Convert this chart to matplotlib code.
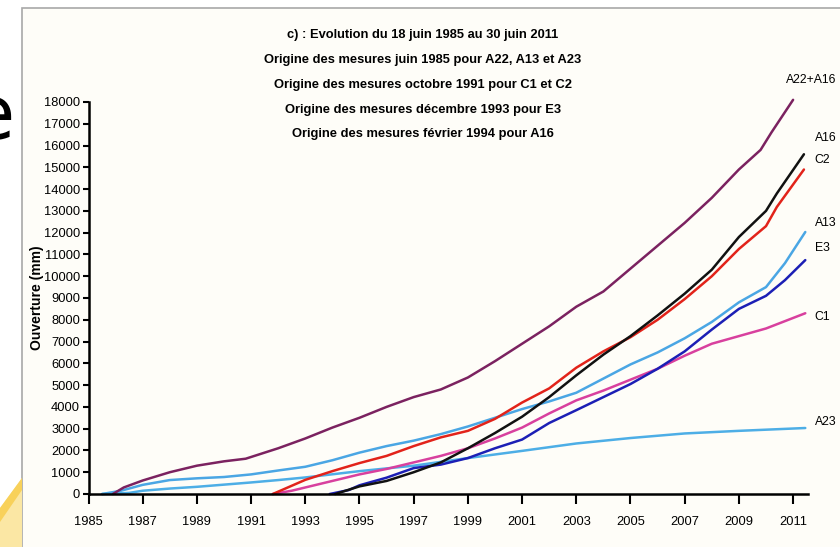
import numpy as np
import matplotlib.pyplot as plt
from matplotlib.patches import Rectangle, Polygon

# Ouverture cumulée des fissures (mm), relevés 1985-2011
a22_a16_t = [1985.9, 1986.3, 1987, 1988, 1989, 1990, 1990.8, 1991, 1992, 1993, 1994, 1995, 1996,
             1997, 1998, 1999, 2000, 2001, 2002, 2003, 2004, 2005, 2006, 2007, 2008, 2009,
             2009.8, 2010.2, 2011.0]
a22_a16_v = [0, 300, 620, 1000, 1300, 1500, 1620, 1700, 2100, 2550, 3050, 3500, 4000,
             4450, 4800, 5350, 6100, 6900, 7700, 8600, 9300, 10350, 11400, 12450, 13600, 14900,
             15800, 16600, 18100]

a16_t = [1994.1, 1995, 1996, 1997, 1998, 1999, 2000, 2001, 2002, 2003, 2004, 2005, 2006,
         2007, 2008, 2009, 2010, 2010.4, 2011.4]
a16_v = [0, 350, 600, 1000, 1450, 2100, 2800, 3550, 4450, 5450, 6400, 7250, 8200,
         9200, 10300, 11800, 13000, 13800, 15600]

c2_t = [1991.8, 1993, 1994, 1995, 1996, 1997, 1998, 1999, 2000, 2001, 2002, 2003, 2004,
        2005, 2006, 2007, 2008, 2009, 2010, 2010.4, 2011.4]
c2_v = [0, 650, 1050, 1420, 1750, 2200, 2600, 2900, 3450, 4200, 4850, 5800, 6550,
        7200, 8000, 8950, 10000, 11250, 12300, 13180, 14900]

a13_t = [1985.5, 1986.2, 1987, 1988, 1989, 1990, 1991, 1992, 1993, 1994, 1995, 1996, 1997,
         1998, 1999, 2000, 2001, 2002, 2003, 2004, 2005, 2006, 2007, 2008, 2009, 2010,
         2010.7, 2011.45]
a13_v = [0, 150, 420, 640, 720, 780, 900, 1080, 1250, 1550, 1900, 2200, 2450,
         2750, 3100, 3500, 3900, 4250, 4650, 5300, 5950, 6500, 7150, 7900, 8800, 9500,
         10600, 12030]

e3_t = [1993.9, 1994.6, 1995, 1996, 1997, 1998, 1999, 2000, 2001, 2002, 2003, 2004, 2005,
        2006, 2007, 2008, 2009, 2010, 2010.7, 2011.45]
e3_v = [0, 180, 400, 750, 1190, 1350, 1650, 2100, 2500, 3260, 3850, 4450, 5050,
        5750, 6550, 7550, 8500, 9100, 9820, 10740]

c1_t = [1991.8, 1992.5, 1993, 1994, 1995, 1996, 1997, 1998, 1999, 2000, 2001, 2002, 2003,
        2004, 2005, 2006, 2007, 2008, 2009, 2010, 2011.45]
c1_v = [0, 150, 300, 600, 900, 1150, 1450, 1750, 2100, 2550, 3050, 3700, 4300,
        4750, 5250, 5750, 6350, 6900, 7250, 7600, 8300]

a23_t = [1985.5, 1986.5, 1987, 1988, 1989, 1990, 1991, 1992, 1993, 1995, 1997, 1999, 2001,
         2003, 2005, 2007, 2009, 2011.45]
a23_v = [0, 50, 150, 250, 330, 430, 530, 640, 760, 1050, 1300, 1650, 1980,
         2320, 2570, 2780, 2900, 3030]

series = [
    ("A23", a23_t, a23_v, "#4DAEE6"),
    ("A13", a13_t, a13_v, "#4AA6E4"),
    ("C1", c1_t, c1_v, "#D8409E"),
    ("E3", e3_t, e3_v, "#1C1FB5"),
    ("C2", c2_t, c2_v, "#E2231A"),
    ("A16", a16_t, a16_v, "#111111"),
    ("A22+A16", a22_a16_t, a22_a16_v, "#7B2260"),
]

# label anchor points (year, mm) at the right end of the curves
label_pos = {
    "A22+A16": (2010.75, 19000),
    "A16": (2011.8, 16340),
    "C2": (2011.8, 15330),
    "A13": (2011.8, 12440),
    "E3": (2011.8, 11300),
    "C1": (2011.8, 8130),
    "A23": (2011.8, 3300),
}

title_lines = [
    "c) : Evolution du 18 juin 1985 au 30 juin 2011",
    "Origine des mesures juin 1985 pour A22, A13 et A23",
    "Origine des mesures octobre 1991 pour C1 et C2",
    "Origine des mesures décembre 1993 pour E3",
    "Origine des mesures février 1994 pour A16",
]

font = ["Liberation Sans", "DejaVu Sans"]
W, H = 840, 547

fig = plt.figure(figsize=(8.4, 5.47), dpi=100)
fig.patch.set_facecolor("white")

# slide background: framed chart, partial letter and yellow corner
bg = fig.add_axes([0, 0, 1, 1], zorder=0)
bg.set_xlim(0, W)
bg.set_ylim(H, 0)
bg.axis("off")
bg.add_patch(Rectangle((22, 8), W, H, facecolor="#FEFDF8", edgecolor="#A8A8A8", lw=1.2))
bg.add_patch(Polygon([(0, H), (22, H), (22, 478), (0, 508)], closed=True,
                     facecolor="#FBE7A4", edgecolor="none"))
bg.add_patch(Polygon([(0, 508), (22, 478), (22, 490), (0, 522)], closed=True,
                     facecolor="#F8D15A", edgecolor="none"))
bg.text(15, 118, "e", fontsize=54, ha="right", va="center", family="DejaVu Sans")

for line, y in zip(title_lines, [35, 60, 85, 110, 134]):
    bg.text(423, y, line, fontsize=9.3, family=font, fontweight="bold",
            ha="center", va="center")

ax = fig.add_axes([88.5 / W, 1 - 494 / H, (808 - 88.5) / W, (494 - 102) / H], zorder=2)
ax.set_facecolor("none")

for name, t, v, col in series:
    ax.plot(t, v, color=col, lw=1.8, solid_capstyle="round", clip_on=False)

for name, (x, y) in label_pos.items():
    ax.text(x, y, name, fontsize=8.8, family=font, ha="left", va="center", clip_on=False)

ax.set_xlim(1985, 2011.55)
ax.set_ylim(0, 18000)
ax.set_xticks(np.arange(1985, 2012, 2))
ax.set_yticks(np.arange(0, 18001, 1000))

for s in ["top", "right"]:
    ax.spines[s].set_visible(False)
for s in ["left", "bottom"]:
    ax.spines[s].set_linewidth(1.8)

ax.tick_params(axis="x", direction="out", length=7, width=1.5, pad=9, labelsize=9.3)
ax.tick_params(axis="y", direction="out", length=4, width=1.5, pad=2, labelsize=9.3)
for lab in ax.get_xticklabels() + ax.get_yticklabels():
    lab.set_family(font)

ax.set_ylabel("Ouverture (mm)", fontsize=10, fontweight="bold", family=font, labelpad=0)

fig.savefig("out.png", dpi=100)
